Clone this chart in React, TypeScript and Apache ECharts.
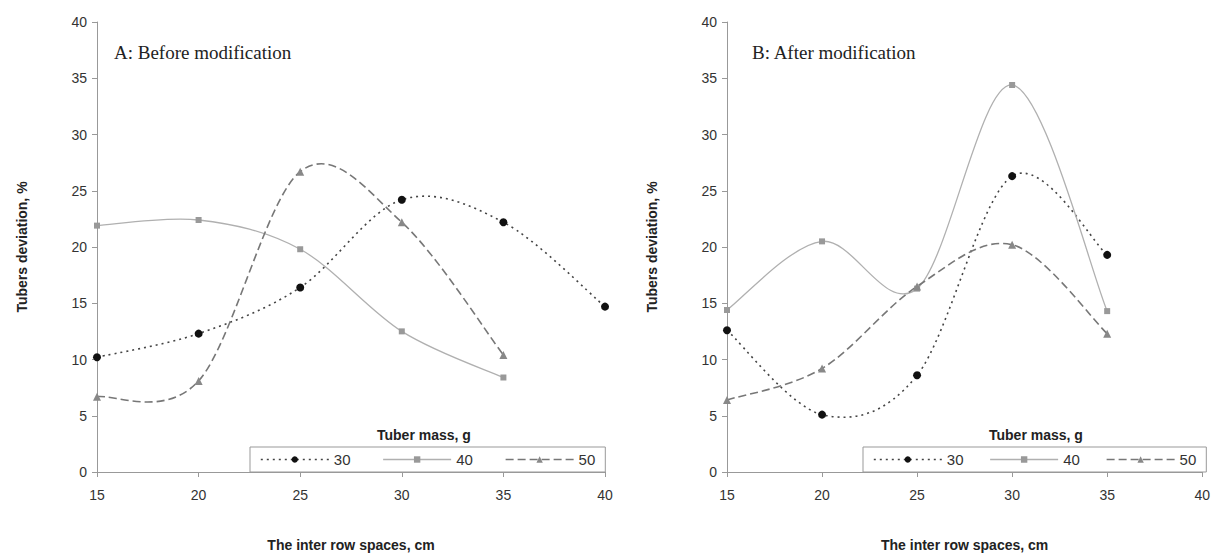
import React, { useEffect, useRef } from "react";
import * as echarts from "echarts";

const spacings = [15, 20, 25, 30, 35, 40];
const seriesNames = ["30", "40", "50"];

// Panel A: Before modification
const a30 = [10.2, 12.3, 16.4, 24.2, 22.2, 14.7];
const a40 = [21.9, 22.4, 19.8, 12.5, 8.4];
const a50 = [6.7, 8.1, 26.7, 22.2, 10.4];

// Panel B: After modification
const b30 = [12.6, 5.1, 8.6, 26.3, 19.3];
const b40 = [14.4, 20.5, 16.3, 34.4, 14.3];
const b50 = [6.4, 9.2, 16.5, 20.2, 12.3];

const pair = (vals: number[]) => vals.map((v, i) => [spacings[i], v]);

const FONT = "Liberation Sans, Arial, sans-serif";

const lineStyles: Record<string, any> = {
  "30": { color: "#444", width: 1.6, type: [2, 4], dash: [2, 4] },
  "40": { color: "#b0b0b0", width: 1.3, type: "solid", dash: null },
  "50": { color: "#777", width: 1.6, type: [8, 4], dash: [8, 4] },
};

const markerStyles: Record<string, any> = {
  "30": { symbol: "circle", symbolSize: 8, itemStyle: { color: "#111" } },
  "40": { symbol: "rect", symbolSize: 6, itemStyle: { color: "#999" } },
  "50": { symbol: "triangle", symbolSize: 8, itemStyle: { color: "#888" } },
};

// Smooth curve (Catmull-Rom style, like a spreadsheet's smoothed line) through the axis coordinates
function mkCurve(name: string, vals: number[], idx: number) {
  const ls = lineStyles[name];
  return {
    type: "custom",
    name: name + " curve",
    xAxisIndex: idx,
    yAxisIndex: idx,
    data: [[spacings[0], vals[0]]],
    silent: true,
    z: 2,
    renderItem: (_params: any, api: any) => {
      const pts = vals.map((v, i) => api.coord([spacings[i], v]));
      let d = `M ${pts[0][0]} ${pts[0][1]}`;
      for (let i = 0; i < pts.length - 1; i++) {
        const p0 = pts[i - 1] || pts[i];
        const p1 = pts[i];
        const p2 = pts[i + 1];
        const p3 = pts[i + 2] || pts[i + 1];
        const c1x = p1[0] + (p2[0] - p0[0]) / 6;
        const c1y = p1[1] + (p2[1] - p0[1]) / 6;
        const c2x = p2[0] - (p3[0] - p1[0]) / 6;
        const c2y = p2[1] - (p3[1] - p1[1]) / 6;
        d += ` C ${c1x} ${c1y} ${c2x} ${c2y} ${p2[0]} ${p2[1]}`;
      }
      return {
        type: "path",
        shape: { pathData: d },
        style: {
          fill: "none",
          stroke: ls.color,
          lineWidth: ls.width,
          lineDash: ls.dash,
        },
      };
    },
  };
}

function mkMarkers(name: string, vals: number[], idx: number) {
  return {
    type: "line",
    name,
    xAxisIndex: idx,
    yAxisIndex: idx,
    data: pair(vals),
    ...markerStyles[name],
    showAllSymbol: true,
    lineStyle: { opacity: 0, width: 0 },
    z: name === "30" ? 5 : 4,
  };
}

function axisX(idx: number) {
  return {
    type: "value",
    gridIndex: idx,
    min: 15,
    max: 40,
    interval: 5,
    name: "The inter row spaces, cm",
    nameLocation: "middle",
    nameGap: 66,
    nameTextStyle: { fontFamily: FONT, fontWeight: "bold", fontSize: 14, color: "#222" },
    axisLine: { show: true, lineStyle: { color: "#999", width: 1 } },
    axisTick: { show: true, length: 5, lineStyle: { color: "#999" } },
    axisLabel: { fontFamily: FONT, fontSize: 14, color: "#333", margin: 16 },
    splitLine: { show: false },
  };
}

function axisY(idx: number) {
  return {
    type: "value",
    gridIndex: idx,
    min: 0,
    max: 40,
    interval: 5,
    name: "Tubers deviation, %",
    nameLocation: "middle",
    nameRotate: 90,
    nameGap: 68,
    nameTextStyle: { fontFamily: FONT, fontWeight: "bold", fontSize: 14, color: "#222" },
    axisLine: { show: true, lineStyle: { color: "#999", width: 1 } },
    axisTick: { show: true, length: 5, lineStyle: { color: "#999" } },
    axisLabel: { fontFamily: FONT, fontSize: 14, color: "#333", margin: 10 },
    splitLine: { show: false },
  };
}

function mkLegend(left: number, gap: number) {
  return {
    left,
    top: 447,
    orient: "horizontal",
    data: seriesNames.map((n) => ({
      name: n,
      lineStyle: {
        color: lineStyles[n].color,
        width: lineStyles[n].width,
        type: lineStyles[n].type,
        opacity: 1,
      },
    })),
    itemWidth: 68,
    itemHeight: 8,
    itemGap: gap,
    padding: [5, 10, 5, 10],
    borderColor: "#999",
    borderWidth: 1,
    textStyle: { fontFamily: FONT, fontSize: 15, color: "#333" },
    selectedMode: false,
  };
}

export default function App() {
  const ref = useRef<HTMLDivElement>(null);
  useEffect(() => {
    if (!ref.current) return;
    const chart = echarts.init(ref.current, undefined, { renderer: "svg" });
    chart.setOption({
      animation: false,
      backgroundColor: "#fff",
      title: [
        {
          text: "A: Before modification",
          left: 109,
          top: 38,
          textStyle: { fontFamily: "Liberation Serif, serif", fontWeight: "normal", fontSize: 19, color: "#222" },
        },
        {
          text: "B: After modification",
          left: 747,
          top: 38,
          textStyle: { fontFamily: "Liberation Serif, serif", fontWeight: "normal", fontSize: 19, color: "#222" },
        },
        {
          text: "Tuber mass, g",
          left: 372,
          top: 423,
          textStyle: { fontFamily: FONT, fontWeight: "bold", fontSize: 14, color: "#222" },
        },
        {
          text: "Tuber mass, g",
          left: 984,
          top: 423,
          textStyle: { fontFamily: FONT, fontWeight: "bold", fontSize: 14, color: "#222" },
        },
      ],
      legend: [mkLegend(250, 32), mkLegend(863, 26)],
      grid: [
        { left: 97, right: 608, top: 22, bottom: 79 },
        { left: 727, right: 8, top: 22, bottom: 79 },
      ],
      xAxis: [axisX(0), axisX(1)],
      yAxis: [axisY(0), axisY(1)],
      series: [
        mkCurve("30", a30, 0),
        mkCurve("40", a40, 0),
        mkCurve("50", a50, 0),
        mkCurve("30", b30, 1),
        mkCurve("40", b40, 1),
        mkCurve("50", b50, 1),
        mkMarkers("30", a30, 0),
        mkMarkers("40", a40, 0),
        mkMarkers("50", a50, 0),
        mkMarkers("30", b30, 1),
        mkMarkers("40", b40, 1),
        mkMarkers("50", b50, 1),
      ],
    });
    return () => chart.dispose();
  }, []);
  return (
    <div
      ref={ref}
      style={{ position: "fixed", left: 0, top: 0, width: 1213, height: 557, background: "#fff" }}
    />
  );
}
